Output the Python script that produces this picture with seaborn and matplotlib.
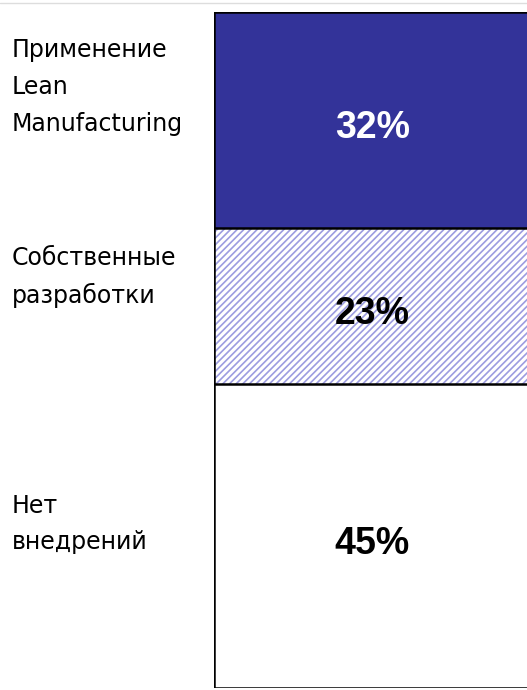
import matplotlib
matplotlib.use('Agg')
import matplotlib.pyplot as plt
import matplotlib.transforms as mtransforms
import seaborn as sns
import pandas as pd

# shares of companies, top to bottom
categories = ['Применение\nLean\nManufacturing', 'Собственные\nразработки', 'Нет\nвнедрений']
shares = [32, 23, 45]
pct_labels = ['32%', '23%', '45%']

sns.set_theme(style='white')
plt.rcParams['font.family'] = ['DejaVu Sans']
plt.rcParams['hatch.linewidth'] = 1.2

W, H = 527, 690
fig = plt.figure(figsize=(W / 100, H / 100), dpi=100)
ax = fig.add_axes([214 / W, 2 / H, 1 - 214 / W, 676 / H])

# cumulative tops (bottom segment first) so that overlaid bars form the stack
tops = []
acc = 0
for i in reversed(range(len(shares))):
    acc += shares[i]
    tops.append(acc)
df = pd.DataFrame({'grp': ['all'] * 3, 'top': tops[::-1]})

hatch_col = '#9c9ce0'
# blue top segment (full height, covered below)
sns.barplot(data=df.iloc[[0]], x='grp', y='top', ax=ax, width=0.8, color='#333399',
            edgecolor='black', linewidth=1.8, saturation=1)
# hatched middle segment; hatch takes the edge colour, outline redrawn after
sns.barplot(data=df.iloc[[1]], x='grp', y='top', ax=ax, width=0.8, color='white',
            hatch='/////', edgecolor=hatch_col, linewidth=0, saturation=1)
sns.barplot(data=df.iloc[[1]], x='grp', y='top', ax=ax, width=0.8, fill=False,
            edgecolor='black', linewidth=1.8)
# white bottom segment
sns.barplot(data=df.iloc[[2]], x='grp', y='top', ax=ax, width=0.8, color='white',
            edgecolor='black', linewidth=1.8, saturation=1)

ax.set_xlim(-0.4, 0.39)
ax.set_ylim(0, 100)
ax.axis('off')

# percentage labels in the middle of each segment (slightly below centre)
shift = mtransforms.offset_copy(ax.transData, fig=fig, x=0, y=-8, units='dots')
bottom = 100
txt_colors = ['white', 'black', 'black']
for i, s in enumerate(shares):
    mid = bottom - s / 2
    bottom -= s
    ax.text(0.0, mid, pct_labels[i], ha='center', va='center', transform=shift,
            fontsize=27, fontweight='bold', color=txt_colors[i],
            family='Liberation Sans')

# category labels on the left
label_y = [87, 277, 524]
for lab, yp in zip(categories, label_y):
    fig.text(12 / W, 1 - yp / H, lab, ha='left', va='center',
             fontsize=17, linespacing=1.68, color='black')

fig.add_artist(plt.Line2D([0, 1], [1 - 2.5 / H, 1 - 2.5 / H], color='#dddddd', lw=1))

plt.savefig('out.png', dpi=100)
plt.close()
